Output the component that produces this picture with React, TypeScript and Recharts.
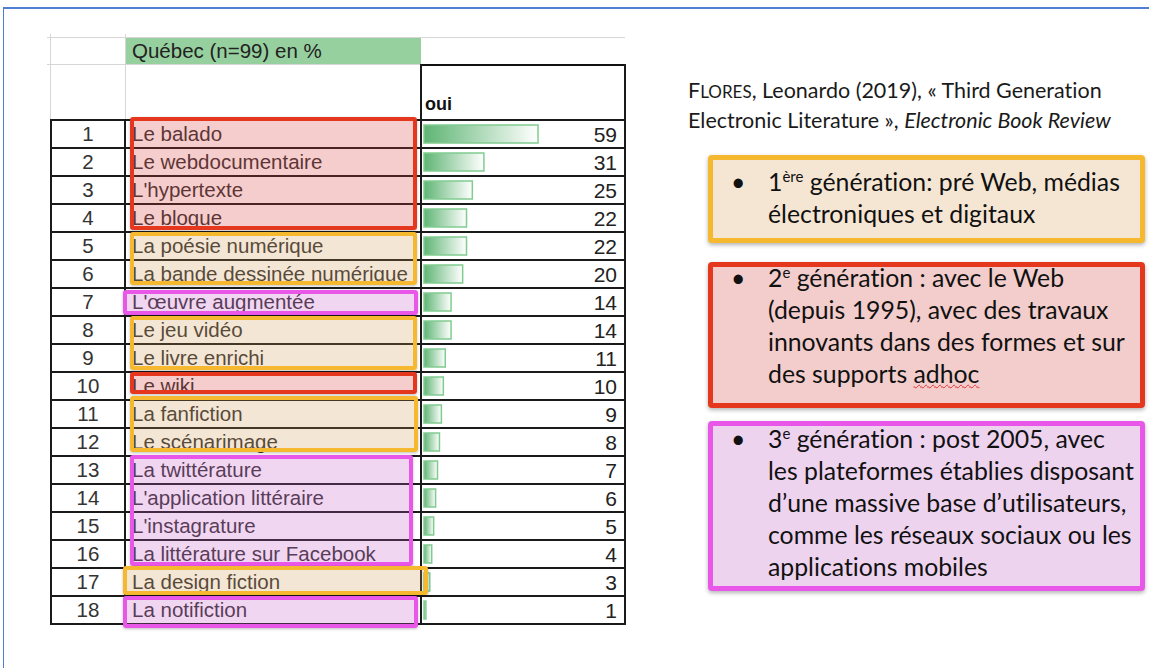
import { BarChart, Bar, XAxis, YAxis, LabelList } from 'recharts';

const ranks = [1, 2, 3, 4, 5, 6, 7, 8, 9, 10, 11, 12, 13, 14, 15, 16, 17, 18];
const labels = [
  'Le balado',
  'Le webdocumentaire',
  "L'hypertexte",
  'Le blogue',
  'La poésie numérique',
  'La bande dessinée numérique',
  "L'œuvre augmentée",
  'Le jeu vidéo',
  'Le livre enrichi',
  'Le wiki',
  'La fanfiction',
  'Le scénarimage',
  'La twittérature',
  "L'application littéraire",
  "L'instagrature",
  'La littérature sur Facebook',
  'La design fiction',
  'La notifiction',
];
const ouiValues = [59, 31, 25, 22, 22, 20, 14, 14, 11, 10, 9, 8, 7, 6, 5, 4, 3, 1];

const chartData = labels.map((label, i) => ({ label, rank: ranks[i], oui: ouiValues[i] }));

const SANS = '"Liberation Sans", Arial, sans-serif';
const CAL = 'Lato, "Open Sans", sans-serif';
const NO_LIGA = '"liga" 0, "clig" 0, "dlig" 0, "calt" 0';

const RED = '#e5361e';
const YELLOW = '#f5b82e';
const PINK = '#e957e9';

// annotation boxes over the label column (page coords)
const leftBoxes = [
  { x: 130, y: 117, w: 287, h: 113, c: RED, f: 'rgba(215,60,60,0.26)' },
  { x: 130, y: 232, w: 287, h: 53, c: YELLOW, f: 'rgba(210,150,80,0.24)' },
  { x: 123, y: 290, w: 295, h: 25, c: PINK, f: 'rgba(200,90,200,0.25)' },
  { x: 130, y: 316, w: 287, h: 54, c: YELLOW, f: 'rgba(210,150,80,0.24)' },
  { x: 130, y: 372, w: 287, h: 22, c: RED, f: 'rgba(215,60,60,0.26)' },
  { x: 130, y: 396, w: 288, h: 56, c: YELLOW, f: 'rgba(210,150,80,0.24)' },
  { x: 130, y: 455, w: 283, h: 111, c: PINK, f: 'rgba(200,90,200,0.25)' },
  { x: 123, y: 566, w: 305, h: 29, c: YELLOW, f: 'rgba(210,150,80,0.24)' },
  { x: 123, y: 596, w: 295, h: 32, c: PINK, f: 'rgba(200,90,200,0.25)' },
];

const TABLE_TOP = 120;
const ROW_H = 28;

const LabelTick = (props: any) => {
  const { y, payload } = props;
  const i = labels.indexOf(payload.value);
  return (
    <g fontFamily={SANS} fontSize={20.5} fill="#333">
      <text x={38} y={y} dy={7} textAnchor="middle">{ranks[i]}</text>
      <text x={82} y={y} dy={7}>{payload.value}</text>
    </g>
  );
};

const ValueLabel = (props: any) => {
  const { y, height, value } = props;
  return (
    <text x={567} y={y + height / 2} dy={8} textAnchor="end" fontFamily={SANS} fontSize={21} fill="#222">
      {value}
    </text>
  );
};

function Line({ x, y, w, h, c }: { x: number; y: number; w: number; h: number; c: string }) {
  return <div style={{ position: 'absolute', left: x, top: y, width: w, height: h, background: c }} />;
}

export default function App() {
  const rowLines = ranks.map((r, i) => TABLE_TOP + ROW_H * i).concat([TABLE_TOP + ROW_H * ranks.length]);
  return (
    <div style={{ position: 'absolute', left: 0, top: 0, width: 1149, height: 668, background: '#fff', overflow: 'hidden' }}>
      {/* slide frame */}
      <Line x={3} y={7} w={1146} h={2} c="#4f7fd4" />
      <Line x={3} y={7} w={1} h={661} c="#4f7fd4" />

      {/* header rows */}
      <Line x={126} y={38} w={295} h={26} c="#97d09f" />
      <Line x={47} y={37} w={578} h={1} c="#d6d6d6" />
      <Line x={47} y={64} w={374} h={1} c="#d6d6d6" />
      <Line x={50} y={34} w={1} h={86} c="#d6d6d6" />
      <Line x={125} y={34} w={1} h={86} c="#d6d6d6" />
      <div style={{ position: 'absolute', left: 132, top: 39, fontFamily: SANS, fontSize: 20.5, color: '#222' }}>
        Québec (n=99) en %
      </div>
      <Line x={421} y={64} w={205} h={2} c="#111" />
      <div style={{ position: 'absolute', left: 425, top: 94, fontFamily: SANS, fontSize: 18, fontWeight: 700, color: '#111' }}>
        oui
      </div>

      {/* table grid */}
      {rowLines.map((y) => (
        <Line key={y} x={50} y={y - 1} w={576} h={2} c="#1a1a1a" />
      ))}
      <Line x={50} y={TABLE_TOP} w={2} h={505} c="#1a1a1a" />
      <Line x={124} y={TABLE_TOP} w={2} h={505} c="#1a1a1a" />
      <Line x={420} y={64} w={2} h={561} c="#1a1a1a" />
      <Line x={624} y={64} w={2} h={561} c="#1a1a1a" />

      <div style={{ position: 'absolute', left: 50, top: TABLE_TOP }}>
        <BarChart
          width={575}
          height={ROW_H * ranks.length}
          data={chartData}
          layout="vertical"
          margin={{ top: 0, right: 0, bottom: 0, left: 0 }}
        >
          <defs>
            <linearGradient id="dataBar" x1="0" y1="0" x2="1" y2="0">
              <stop offset="0%" stopColor="#5fb574" />
              <stop offset="100%" stopColor="#ffffff" />
            </linearGradient>
          </defs>
          <XAxis type="number" domain={[0, 104]} hide />
          <YAxis
            type="category"
            dataKey="label"
            width={374}
            axisLine={false}
            tickLine={false}
            interval={0}
            tick={<LabelTick />}
          />
          <Bar dataKey="oui" barSize={18} fill="url(#dataBar)" stroke="#80cc90" strokeWidth={1.5} isAnimationActive={false}>
            <LabelList dataKey="oui" content={<ValueLabel />} />
          </Bar>
        </BarChart>
      </div>

      {/* highlight boxes */}
      {leftBoxes.map((b, i) => (
        <div
          key={i}
          style={{
            position: 'absolute',
            left: b.x,
            top: b.y,
            width: b.w - 8,
            height: b.h - 8,
            border: `4px solid ${b.c}`,
            borderRadius: 3,
            background: b.f,
            boxShadow: '0 1px 3px rgba(0,0,0,0.25)',
          }}
        />
      ))}

      {/* citation */}
      <div
        style={{
          position: 'absolute',
          left: 688,
          top: 76,
          fontFamily: CAL,
          fontSize: 21.5,
          lineHeight: '28px',
          color: '#1a1a1a',
          fontFeatureSettings: NO_LIGA,
        }}
      >
        <span>F<span style={{ fontSize: 17 }}>LORES</span>, Leonardo (2019), « Third Generation</span>
        <br />
        <span>Electronic Literature », <i>Electronic Book Review</i></span>
      </div>

      {/* generation boxes */}
      <GenBox top={155} height={88} c={YELLOW} f="#f5e6d4" sup="ère" n="1" lines={['génération: pré Web, médias', 'électroniques et digitaux']} padTop={6} />
      <GenBox
        top={262}
        height={146}
        c={RED}
        f="#f2cdcc"
        sup="e"
        n="2"
        lines={['génération : avec le Web', '(depuis 1995), avec des travaux', 'innovants dans des formes et sur', 'des supports adhoc']}
        padTop={-5}
      />
      <GenBox
        top={421}
        height={170}
        c={PINK}
        f="#eed3ef"
        sup="e"
        n="3"
        lines={['génération :  post 2005, avec', 'les plateformes établies disposant', 'd’une massive base d’utilisateurs,', 'comme les réseaux sociaux ou les', 'applications mobiles']}
        padTop={-3}
      />
    </div>
  );
}

function GenBox(props: { top: number; height: number; c: string; f: string; sup: string; n: string; lines: string[]; padTop: number }) {
  const { top, height, c, f, sup, n, lines, padTop } = props;
  return (
    <div
      style={{
        position: 'absolute',
        left: 708,
        top,
        width: 437 - 10,
        height: height - 10,
        border: `5px solid ${c}`,
        borderRadius: 4,
        background: f,
        boxShadow: '0 2px 4px rgba(0,0,0,0.3)',
        fontFamily: CAL,
        fontSize: 24.8,
        lineHeight: '32px',
        color: '#111',
        fontFeatureSettings: NO_LIGA,
      }}
    >
      <div style={{ position: 'absolute', left: 18, top: padTop }}>•</div>
      <div style={{ position: 'absolute', left: 55, top: padTop, whiteSpace: 'nowrap' }}>
        {lines.map((l, i) => (
          <div key={i}>
            {i === 0 ? (
              <>
                {n}
                <sup style={{ fontSize: 15, lineHeight: 0 }}>{sup}</sup>{' '}
              </>
            ) : null}
            {i === 3 && l.includes('adhoc') ? (
              <>
                des supports{' '}
                <span style={{ textDecoration: 'underline wavy #e03030', textDecorationThickness: 1 }}>adhoc</span>
              </>
            ) : (
              l
            )}
          </div>
        ))}
      </div>
    </div>
  );
}
